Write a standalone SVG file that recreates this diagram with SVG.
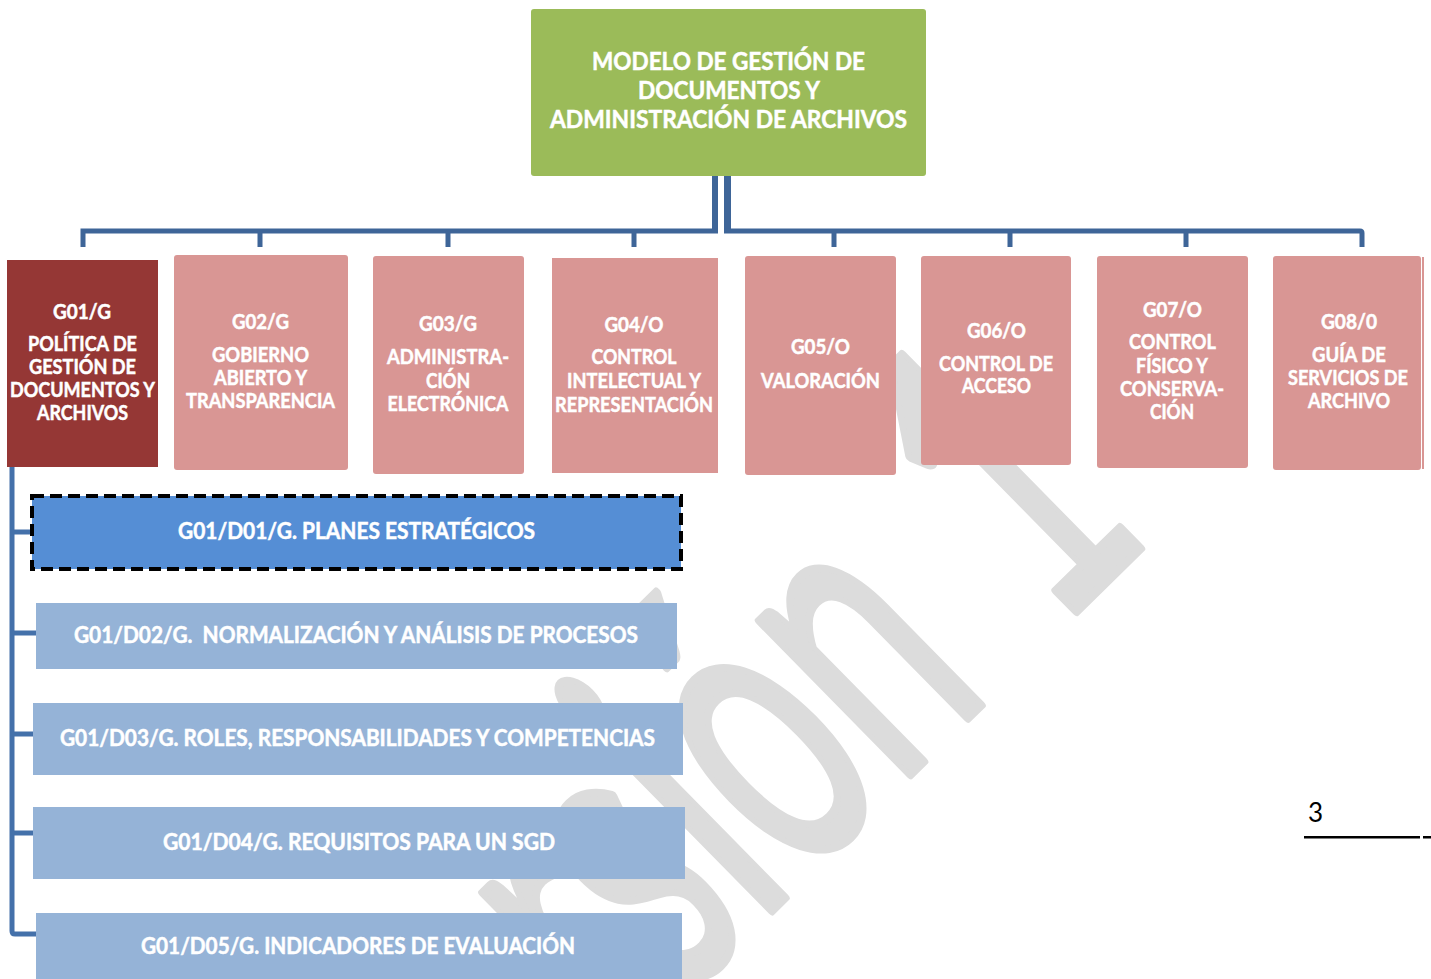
<svg xmlns="http://www.w3.org/2000/svg" width="1431" height="979" viewBox="0 0 1431 979">
<style>
.lbl{font-family:Lato,"Open Sans","Liberation Sans",sans-serif;font-weight:700;fill:#ffffff;stroke:#ffffff;stroke-width:0.5;text-anchor:middle}
.s20{font-size:20px}
.s22{font-size:22px}
.s25{font-size:25px}
.pink{fill:#d99694}
.dblue{fill:#95b3d7}
.conn{fill:none;stroke:#3e6598;stroke-width:5}
.connL{fill:none;stroke:#4471aa;stroke-width:5}
</style>
<rect width="1431" height="979" fill="#ffffff"/>
<g id="watermark">
<text transform="translate(974,712) rotate(-44.5) scale(0.57,1)" font-family="Lato,'Open Sans',sans-serif" font-size="425" fill="#dcdcdc" stroke="#dcdcdc" stroke-width="9" stroke-linejoin="round"><tspan x="48" y="0" text-anchor="end">Versión</tspan><tspan x="196" y="0" text-anchor="start">1</tspan></text>
</g>
<g id="connectors">
<rect x="712" y="176" width="6" height="57" fill="#3e6598"/>
<rect x="724" y="176" width="7" height="57" fill="#3e6598"/>
<path class="conn" d="M83 247 V231 H718"/>
<path class="conn" d="M724 231 H1360 Q1362 231 1362 233 V247"/>
<path class="conn" d="M260 231 V247 M448 231 V247 M634 231 V247 M834 231 V247 M1010 231 V247 M1186 231 V247"/>
<path class="connL" d="M12 467 V931 Q12 934 15 934 H36"/>
<path class="connL" d="M12 532 H32 M12 633 H36 M12 734 H33 M12 833 H33"/>
</g>
<g id="root">
<rect x="531" y="9" width="395" height="167" rx="3" fill="#9bbb59"/>
<text class="lbl s25" x="728.5" y="70" textLength="273" lengthAdjust="spacingAndGlyphs">MODELO DE GESTIÓN DE</text>
<text class="lbl s25" x="729" y="99" textLength="182" lengthAdjust="spacingAndGlyphs">DOCUMENTOS Y</text>
<text class="lbl s25" x="728.5" y="128" textLength="357" lengthAdjust="spacingAndGlyphs">ADMINISTRACIÓN DE ARCHIVOS</text>
</g>
<g id="g01">
<rect x="7" y="260" width="151" height="207" fill="#953735"/>
<text class="lbl s20" x="82" y="319" textLength="58" lengthAdjust="spacingAndGlyphs">G01/G</text>
<text class="lbl s20" x="82.5" y="351" textLength="109" lengthAdjust="spacingAndGlyphs">POLÍTICA DE</text>
<text class="lbl s20" x="82.5" y="374" textLength="107" lengthAdjust="spacingAndGlyphs">GESTIÓN DE</text>
<text class="lbl s20" x="82.5" y="397" textLength="145" lengthAdjust="spacingAndGlyphs">DOCUMENTOS Y</text>
<text class="lbl s20" x="82.5" y="420" textLength="91" lengthAdjust="spacingAndGlyphs">ARCHIVOS</text>
</g>
<g id="g02">
<rect class="pink" x="174" y="255" width="174" height="215" rx="3"/>
<text class="lbl s20" x="260.5" y="329" textLength="57" lengthAdjust="spacingAndGlyphs">G02/G</text>
<text class="lbl s20" x="260.5" y="362" textLength="97" lengthAdjust="spacingAndGlyphs">GOBIERNO</text>
<text class="lbl s20" x="260.5" y="385" textLength="93" lengthAdjust="spacingAndGlyphs">ABIERTO Y</text>
<text class="lbl s20" x="260.5" y="408" textLength="149" lengthAdjust="spacingAndGlyphs">TRANSPARENCIA</text>
</g>
<g id="g03">
<rect class="pink" x="373" y="256" width="151" height="218" rx="3"/>
<text class="lbl s20" x="448" y="331" textLength="58" lengthAdjust="spacingAndGlyphs">G03/G</text>
<text class="lbl s20" x="448" y="364" textLength="122" lengthAdjust="spacingAndGlyphs">ADMINISTRA-</text>
<text class="lbl s20" x="448" y="388" textLength="44" lengthAdjust="spacingAndGlyphs">CIÓN</text>
<text class="lbl s20" x="448" y="411" textLength="121" lengthAdjust="spacingAndGlyphs">ELECTRÓNICA</text>
</g>
<g id="g04">
<rect class="pink" x="552" y="258" width="166" height="215"/>
<text class="lbl s20" x="634" y="332" textLength="59" lengthAdjust="spacingAndGlyphs">G04/O</text>
<text class="lbl s20" x="634" y="364" textLength="85" lengthAdjust="spacingAndGlyphs">CONTROL</text>
<text class="lbl s20" x="634" y="388" textLength="134" lengthAdjust="spacingAndGlyphs">INTELECTUAL Y</text>
<text class="lbl s20" x="634" y="412" textLength="158" lengthAdjust="spacingAndGlyphs">REPRESENTACIÓN</text>
</g>
<g id="g05">
<rect class="pink" x="745" y="256" width="151" height="219" rx="3"/>
<text class="lbl s20" x="820.5" y="354" textLength="59" lengthAdjust="spacingAndGlyphs">G05/O</text>
<text class="lbl s20" x="820.5" y="388" textLength="119" lengthAdjust="spacingAndGlyphs">VALORACIÓN</text>
</g>
<g id="g06">
<rect class="pink" x="921" y="256" width="150" height="209" rx="3"/>
<text class="lbl s20" x="996.5" y="338" textLength="59" lengthAdjust="spacingAndGlyphs">G06/O</text>
<text class="lbl s20" x="996" y="371" textLength="114" lengthAdjust="spacingAndGlyphs">CONTROL DE</text>
<text class="lbl s20" x="996.5" y="393" textLength="69" lengthAdjust="spacingAndGlyphs">ACCESO</text>
</g>
<g id="g07">
<rect class="pink" x="1097" y="256" width="151" height="212" rx="3"/>
<text class="lbl s20" x="1172.5" y="317" textLength="59" lengthAdjust="spacingAndGlyphs">G07/O</text>
<text class="lbl s20" x="1172.5" y="349" textLength="87" lengthAdjust="spacingAndGlyphs">CONTROL</text>
<text class="lbl s20" x="1172" y="373" textLength="72" lengthAdjust="spacingAndGlyphs">FÍSICO Y</text>
<text class="lbl s20" x="1172" y="396" textLength="104" lengthAdjust="spacingAndGlyphs">CONSERVA-</text>
<text class="lbl s20" x="1172" y="419" textLength="44" lengthAdjust="spacingAndGlyphs">CIÓN</text>
</g>
<g id="g08">
<rect class="pink" x="1273" y="256" width="148" height="214" rx="3"/>
<rect class="pink" x="1422" y="257" width="2" height="212"/>
<text class="lbl s20" x="1349" y="329" textLength="56" lengthAdjust="spacingAndGlyphs">G08/0</text>
<text class="lbl s20" x="1349" y="362" textLength="74" lengthAdjust="spacingAndGlyphs">GUÍA DE</text>
<text class="lbl s20" x="1348" y="385" textLength="120" lengthAdjust="spacingAndGlyphs">SERVICIOS DE</text>
<text class="lbl s20" x="1349" y="408" textLength="82" lengthAdjust="spacingAndGlyphs">ARCHIVO</text>
</g>
<g id="d01">
<rect x="32" y="496" width="649" height="73" fill="#558ed5" stroke="#000000" stroke-width="4" stroke-dasharray="12 6"/>
<text class="lbl s22" x="356.5" y="539" textLength="357" lengthAdjust="spacingAndGlyphs">G01/D01/G. PLANES ESTRATÉGICOS</text>
</g>
<g id="d02">
<rect class="dblue" x="36" y="603" width="641" height="66"/>
<text class="lbl s22" x="356" y="643" textLength="564" lengthAdjust="spacingAndGlyphs" xml:space="preserve">G01/D02/G.  NORMALIZACIÓN Y ANÁLISIS DE PROCESOS</text>
</g>
<g id="d03">
<rect class="dblue" x="33" y="703" width="650" height="72"/>
<text class="lbl s22" x="357.5" y="746" textLength="595" lengthAdjust="spacingAndGlyphs">G01/D03/G. ROLES, RESPONSABILIDADES Y COMPETENCIAS</text>
</g>
<g id="d04">
<rect class="dblue" x="33" y="807" width="652" height="72"/>
<text class="lbl s22" x="359" y="850" textLength="392" lengthAdjust="spacingAndGlyphs">G01/D04/G. REQUISITOS PARA UN SGD</text>
</g>
<g id="d05">
<rect class="dblue" x="36" y="913" width="646" height="70"/>
<text class="lbl s22" x="358" y="954" textLength="434" lengthAdjust="spacingAndGlyphs">G01/D05/G. INDICADORES DE EVALUACIÓN</text>
</g>
<g id="page-number">
<text x="1308" y="822" font-family="Lato,'Open Sans',sans-serif" font-size="26" fill="#000000">3</text>
<rect x="1304" y="836" width="116" height="2.5" fill="#000000"/>
<rect x="1423" y="836" width="8" height="2.5" fill="#000000"/>
</g>
</svg>
